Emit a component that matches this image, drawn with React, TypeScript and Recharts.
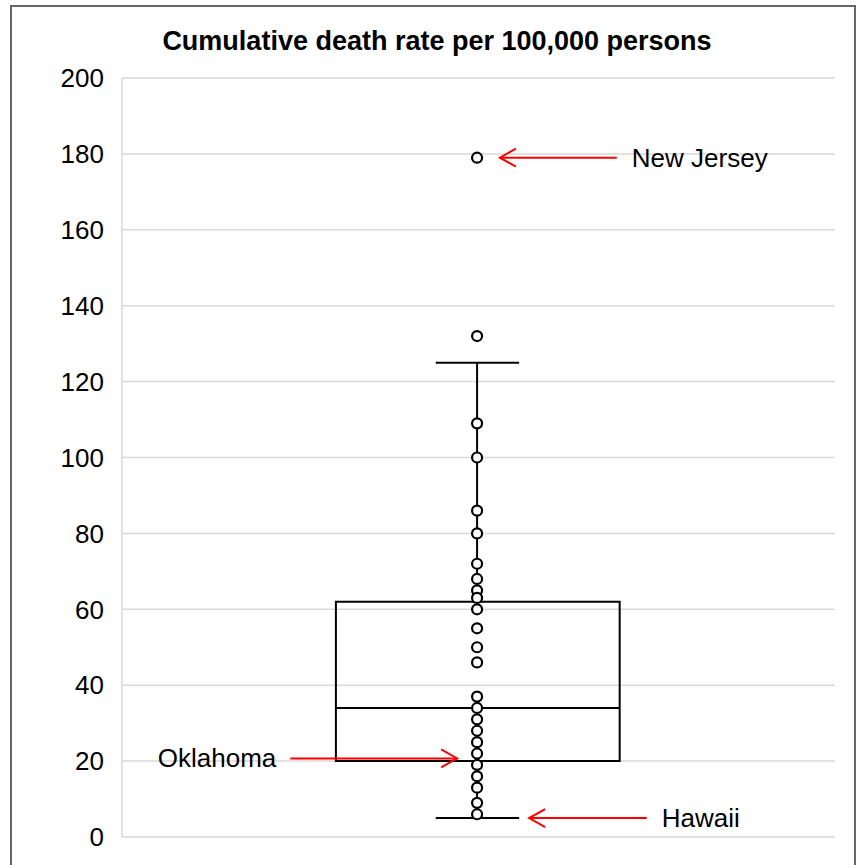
import React from 'react';
import { ComposedChart, Scatter, XAxis, YAxis, CartesianGrid, ReferenceArea, ReferenceLine } from 'recharts';

// state cumulative death rates (per 100,000)
const rates = [179, 132, 109, 100, 86, 80, 72, 68, 65, 63, 60, 55, 50, 46, 37, 34, 31, 28, 25, 22, 19, 16, 13, 9, 6];
const yTicks = [0, 20, 40, 60, 80, 100, 120, 140, 160, 180, 200];
const box = { q1: 20, median: 34, q3: 62, low: 5, high: 125 };
const boxX = { left: 0.3, right: 0.698, center: 0.498, capLeft: 0.44, capRight: 0.557 };
const callouts = [
  { name: 'New Jersey', y: 179, tail: 0.694, head: 0.53, side: 'right' },
  { name: 'Oklahoma', y: 20.7, tail: 0.236, head: 0.47, side: 'left' },
  { name: 'Hawaii', y: 5, tail: 0.736, head: 0.571, side: 'right' },
];

const points = rates.map((v) => ({ x: boxX.center, y: v }));
const font = 'Liberation Sans, Arial, sans-serif';

const Arrow = (label: string, side: string) => (props: any) => {
  const { x1, y1, x2, y2 } = props;
  const dir = x2 > x1 ? 1 : -1;
  return (
    <g>
      <line x1={x1} y1={y1} x2={x2} y2={y2} stroke="#ff0000" strokeWidth={2} />
      <polyline
        points={`${x2 - dir * 16},${y2 - 9} ${x2},${y2} ${x2 - dir * 16},${y2 + 9}`}
        fill="none"
        stroke="#ff0000"
        strokeWidth={2}
      />
      <text
        x={side === 'right' ? x1 + 15 : x1 - 14}
        y={y1 + 9}
        textAnchor={side === 'right' ? 'start' : 'end'}
        fontSize={26}
        fontFamily={font}
        fill="#000"
      >
        {label}
      </text>
    </g>
  );
};

export default function App() {
  return (
    <div style={{ position: 'fixed', top: 5, left: 10, width: 846, height: 870, boxSizing: 'border-box', border: '2px solid #666', background: '#fff' }}>
      <div style={{ position: 'absolute', top: 19, left: 0, width: 850, textAlign: 'center', fontFamily: font, fontWeight: 'bold', fontSize: 27 }}>
        Cumulative death rate per 100,000 persons
      </div>
      <ComposedChart width={844} height={858} margin={{ top: 71, right: 21, bottom: 28, left: 50 }}>
        <CartesianGrid vertical={false} stroke="#d9d9d9" strokeWidth={1.5} />
        <XAxis type="number" dataKey="x" domain={[0, 1]} hide />
        <YAxis
          type="number"
          dataKey="y"
          domain={[0, 200]}
          ticks={yTicks}
          interval={0}
          width={60}
          axisLine={{ stroke: '#d9d9d9', strokeWidth: 1.5 }}
          tickLine={false}
          tick={{ fill: '#000', fontSize: 26, fontFamily: font }}
          tickMargin={12}
        />
        <ReferenceArea x1={boxX.left} x2={boxX.right} y1={box.q1} y2={box.q3} fill="none" stroke="#000" strokeWidth={2} fillOpacity={0} strokeOpacity={1} />
        <ReferenceLine segment={[{ x: boxX.left, y: box.median }, { x: boxX.right, y: box.median }]} stroke="#000" strokeWidth={2} />
        <ReferenceLine segment={[{ x: boxX.center, y: box.q3 }, { x: boxX.center, y: box.high }]} stroke="#000" strokeWidth={2} />
        <ReferenceLine segment={[{ x: boxX.center, y: box.low }, { x: boxX.center, y: box.q1 }]} stroke="#000" strokeWidth={2} />
        <ReferenceLine segment={[{ x: boxX.capLeft, y: box.high }, { x: boxX.capRight, y: box.high }]} stroke="#000" strokeWidth={2} />
        <ReferenceLine segment={[{ x: boxX.capLeft, y: box.low }, { x: boxX.capRight, y: box.low }]} stroke="#000" strokeWidth={2} />
        <Scatter
          data={points}
          isAnimationActive={false}
          shape={(p: any) => <circle cx={p.cx} cy={p.cy} r={5} fill="#fff" stroke="#000" strokeWidth={2.2} />}
        />
        {callouts.map((c) => (
          <ReferenceLine
            key={c.name}
            segment={[{ x: c.tail, y: c.y }, { x: c.head, y: c.y }]}
            shape={Arrow(c.name, c.side)}
          />
        ))}
      </ComposedChart>
    </div>
  );
}
